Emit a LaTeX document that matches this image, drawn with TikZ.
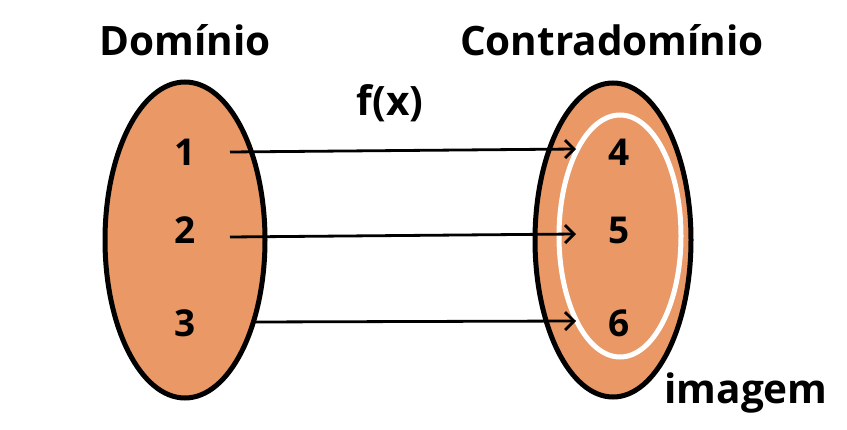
\documentclass[tikz,border=0pt]{standalone}
\usepackage{fontspec}
\setmainfont{Open Sans}
\usetikzlibrary{arrows.meta}
\definecolor{fillorange}{HTML}{E99866}
\tikzset{
  setshape/.style={draw=black, line width=5pt, fill=fillorange},
  imgshape/.style={draw=white, line width=5pt},
  lbl/.style={font=\fontsize{40.5}{44}\selectfont\bfseries, inner sep=0pt, anchor=center},
  num/.style={font=\fontsize{37}{40}\selectfont\bfseries, inner sep=0pt, anchor=center},
  maparrow/.style={line width=2.8pt, -{Straight Barb[length=9pt,width=18pt,line width=2.8pt]}}
}
\begin{document}
\begin{tikzpicture}[x=1pt,y=-1pt]
\useasboundingbox (0,0) rectangle (847,430);
% sets
\draw[setshape] (185,240) ellipse [x radius=80, y radius=158];
\draw[setshape] (613,240) ellipse [x radius=78, y radius=157];
\draw[imgshape] (620,236) ellipse [x radius=61, y radius=121];
% titles
\node[lbl] (dom) at (185,40) {Domínio};
\node[lbl] (cod) at (612,40) {Contradomínio};
\node[lbl] (fx) at (390,103) {f(x)};
\node[lbl] (img) at (746,393) {imagem};
% elements
\node[num] (n1) at (185,152) {1};
\node[num] (n2) at (185,230) {2};
\node[num] (n3) at (185,323) {3};
\node[num] (n4) at (619,152) {4};
\node[num] (n5) at (619,230) {5};
\node[num] (n6) at (619,323) {6};
% arrow end points
\coordinate (s1) at (230,152);
\coordinate (e1) at (576,149);
\coordinate (s2) at (230,237);
\coordinate (e2) at (576,234);
\coordinate (s3) at (255,322);
\coordinate (e3) at (576,321);
\draw[maparrow] (s1) -- (e1);
\draw[maparrow] (s2) -- (e2);
\draw[maparrow] (s3) -- (e3);
\end{tikzpicture}
\end{document}
